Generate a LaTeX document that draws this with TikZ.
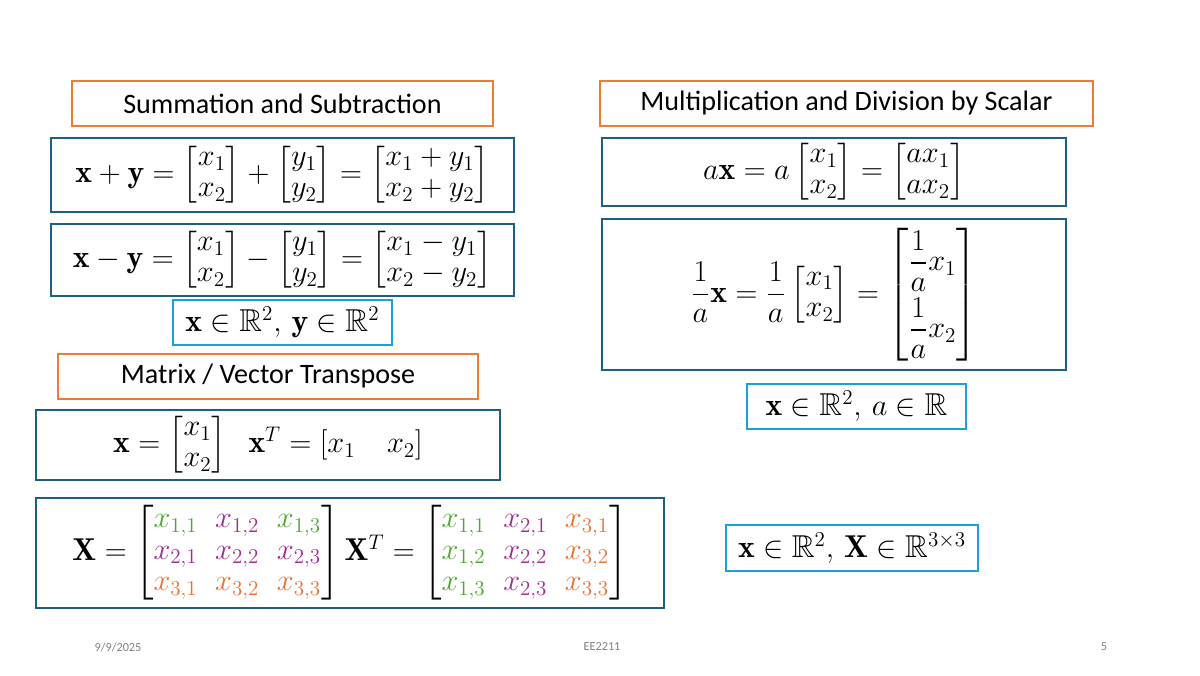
\documentclass[tikz,border=0pt]{standalone}
\usepackage{amsmath,amssymb}
\usepackage{fontspec}
\newfontfamily\calib{Carlito}
\definecolor{org}{HTML}{ED7D31}
\definecolor{dblue}{HTML}{1F5F80}
\definecolor{cyn}{HTML}{1CA0DC}
\definecolor{grn}{HTML}{4EA72E}
\definecolor{prp}{HTML}{A02B93}
\definecolor{og}{HTML}{E97132}
\renewcommand\arraystretch{0.85}
\begin{document}
\begin{tikzpicture}[x=0.02cm,y=-0.02cm,
 bx/.style={draw,line width=1.3pt,inner sep=0pt,font=\fontsize{18}{21}\selectfont},
 ob/.style={bx,draw=org,font=\fontsize{16}{19}\selectfont\calib},
 db/.style={bx,draw=dblue},
 cb/.style={bx,draw=cyn},
 ft/.style={font=\fontsize{7}{8}\selectfont\calib,text=gray}]
\useasboundingbox (0,0) rectangle (1200,676);
\newcommand\bxat[6]{\node[#1,minimum width={(#4-#2)*0.02cm},minimum height={(#5-#3)*0.02cm}] (#6) at ({(#2+#4)/2},{(#3+#5)/2})}
\bxat{ob}{72}{81}{493}{126}{t1} {Summation and Subtraction};
\bxat{db}{51}{138}{514}{212}{s1} {$\mathbf{x}+\mathbf{y}=\begin{bmatrix}x_1\\x_2\end{bmatrix}+\begin{bmatrix}y_1\\y_2\end{bmatrix}=\begin{bmatrix}x_1+y_1\\x_2+y_2\end{bmatrix}$};
\bxat{db}{51}{224}{514}{296}{s2} {$\mathbf{x}-\mathbf{y}=\begin{bmatrix}x_1\\x_2\end{bmatrix}-\begin{bmatrix}y_1\\y_2\end{bmatrix}=\begin{bmatrix}x_1-y_1\\x_2-y_2\end{bmatrix}$};
\bxat{cb}{173}{300}{392}{345}{c1} {$\mathbf{x}\in\mathbb{R}^2,\,\mathbf{y}\in\mathbb{R}^2$};
\bxat{ob}{58}{354}{478}{399}{t2} {Matrix / Vector Transpose};
\bxat{db}{36}{410}{500}{480}{v1} {$\mathbf{x}=\begin{bmatrix}x_1\\x_2\end{bmatrix}\;\;\mathbf{x}^T=[x_1\quad x_2]$};
\bxat{db}{36}{498}{664}{608}{m1} {$\mathbf{X}=\begin{bmatrix}\color{grn}x_{1,1}&\color{prp}x_{1,2}&\color{grn}x_{1,3}\\\color{prp}x_{2,1}&\color{prp}x_{2,2}&\color{prp}x_{2,3}\\\color{og}x_{3,1}&\color{og}x_{3,2}&\color{og}x_{3,3}\end{bmatrix}\mathbf{X}^T=\begin{bmatrix}\color{grn}x_{1,1}&\color{prp}x_{2,1}&\color{og}x_{3,1}\\\color{grn}x_{1,2}&\color{prp}x_{2,2}&\color{og}x_{3,2}\\\color{grn}x_{1,3}&\color{prp}x_{2,3}&\color{og}x_{3,3}\end{bmatrix}$};
\bxat{ob}{600}{81}{1093}{126}{t3} {Multiplication and Division by Scalar};
\bxat{db}{602}{138}{1066}{206}{r1} {$a\mathbf{x}=a\begin{bmatrix}x_1\\x_2\end{bmatrix}=\begin{bmatrix}ax_1\\ax_2\end{bmatrix}$};
\bxat{db}{602}{219}{1066}{370}{r2} {$\dfrac{1}{a}\mathbf{x}=\dfrac{1}{a}\begin{bmatrix}x_1\\x_2\end{bmatrix}=\begin{bmatrix}\dfrac{1}{a}x_1\\[10pt]\dfrac{1}{a}x_2\end{bmatrix}$};
\bxat{cb}{747}{384}{966}{429}{c2} {$\mathbf{x}\in\mathbb{R}^2,\,a\in\mathbb{R}$};
\bxat{cb}{726}{525}{978}{571}{c3} {$\mathbf{x}\in\mathbb{R}^2,\,\mathbf{X}\in\mathbb{R}^{3\times3}$};
\node[ft] (f1) at (118,647) {9/9/2025};
\node[ft] (f2) at (602,647) {EE2211};
\node[ft] (f3) at (1104,647) {5};
\end{tikzpicture}
\end{document}
